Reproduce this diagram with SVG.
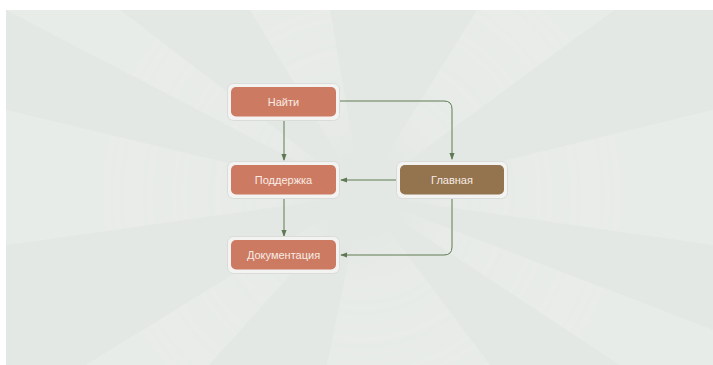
<svg xmlns="http://www.w3.org/2000/svg" width="713" height="365" viewBox="0 0 713 365">
  <style>
    .frame { fill: #f3f3f2; stroke: #d9dcd8; stroke-width: 1; }
    .box { fill: #cd7a62; }
    .box-main { fill: #94734f; }
    .label { font-family: "Liberation Sans", "DejaVu Sans", sans-serif; font-size: 11px; fill: #f7ece4; text-anchor: middle; dominant-baseline: central; }
    .edge { fill: none; stroke: #5f7a53; stroke-width: 1; }
    .ray { fill: #ecefec; }
  </style>
  <defs>
    <marker id="arrow" viewBox="0 0 8 8" refX="7" refY="4" markerWidth="7" markerHeight="7" orient="auto" markerUnits="userSpaceOnUse">
      <path d="M0,1 L8,4 L0,7 Z" fill="#5f7a53"/>
    </marker>
    <clipPath id="bgclip">
      <rect x="6" y="10" width="707" height="355"/>
    </clipPath>
    <radialGradient id="fade" gradientUnits="userSpaceOnUse" cx="362" cy="195" r="260">
      <stop offset="0" stop-color="#000"/>
      <stop offset="0.15" stop-color="#000"/>
      <stop offset="0.35" stop-color="#fff" stop-opacity="0.8"/>
      <stop offset="1" stop-color="#fff"/>
    </radialGradient>
    <mask id="raymask">
      <rect x="0" y="0" width="713" height="365" fill="url(#fade)"/>
    </mask>
  </defs>

  <!-- canvas with soft starburst -->
  <rect x="0" y="0" width="713" height="365" fill="#ffffff"/>
  <rect x="6" y="10" width="707" height="355" fill="#e4e8e4"/>
  <g clip-path="url(#bgclip)" mask="url(#raymask)" opacity="0.6">
    <polygon class="ray" points="362,195 250,10 330,10"/>
    <polygon class="ray" points="362,195 477,10 614,10"/>
    <polygon class="ray" points="362,195 6,110 6,245"/>
    <polygon class="ray" points="362,195 713,110 713,245"/>
    <polygon class="ray" points="362,195 86,365 209,365"/>
    <polygon class="ray" points="362,195 327,365 490,365"/>
    <polygon class="ray" points="362,195 620,365 713,365 713,330"/>
    <polygon class="ray" points="362,195 6,10 120,10"/>
  </g>

  <!-- connectors -->
  <g id="connectors">
    <path class="edge" d="M284,121 L284,160" marker-end="url(#arrow)"/>
    <path class="edge" d="M340,101 L444,101 Q452,101 452,109 L452,159" marker-end="url(#arrow)"/>
    <path class="edge" d="M396,180 L341,180" marker-end="url(#arrow)"/>
    <path class="edge" d="M284,198 L284,236" marker-end="url(#arrow)"/>
    <path class="edge" d="M452,198 L452,247 Q452,255 444,255 L341,255" marker-end="url(#arrow)"/>
  </g>

  <!-- nodes -->
  <g id="node-najti">
    <rect class="frame" x="227.5" y="83.5" width="112" height="37" rx="6"/>
    <rect class="box" x="231" y="87" width="105" height="29.5" rx="5"/>
    <text class="label" x="283.5" y="102">Найти</text>
  </g>
  <g id="node-podderzhka">
    <rect class="frame" x="227.5" y="161.5" width="112" height="37" rx="6"/>
    <rect class="box" x="231" y="165" width="105" height="29.5" rx="5"/>
    <text class="label" x="283.5" y="180">Поддержка</text>
  </g>
  <g id="node-dokumentaciya">
    <rect class="frame" x="227.5" y="236.5" width="112" height="37" rx="6"/>
    <rect class="box" x="231" y="240" width="105" height="29.5" rx="5"/>
    <text class="label" x="283.5" y="255">Документация</text>
  </g>
  <g id="node-glavnaya">
    <rect class="frame" x="396.5" y="161.5" width="111" height="37" rx="6"/>
    <rect class="box-main" x="400" y="165" width="104" height="29.5" rx="5"/>
    <text class="label" x="452" y="180">Главная</text>
  </g>
</svg>
